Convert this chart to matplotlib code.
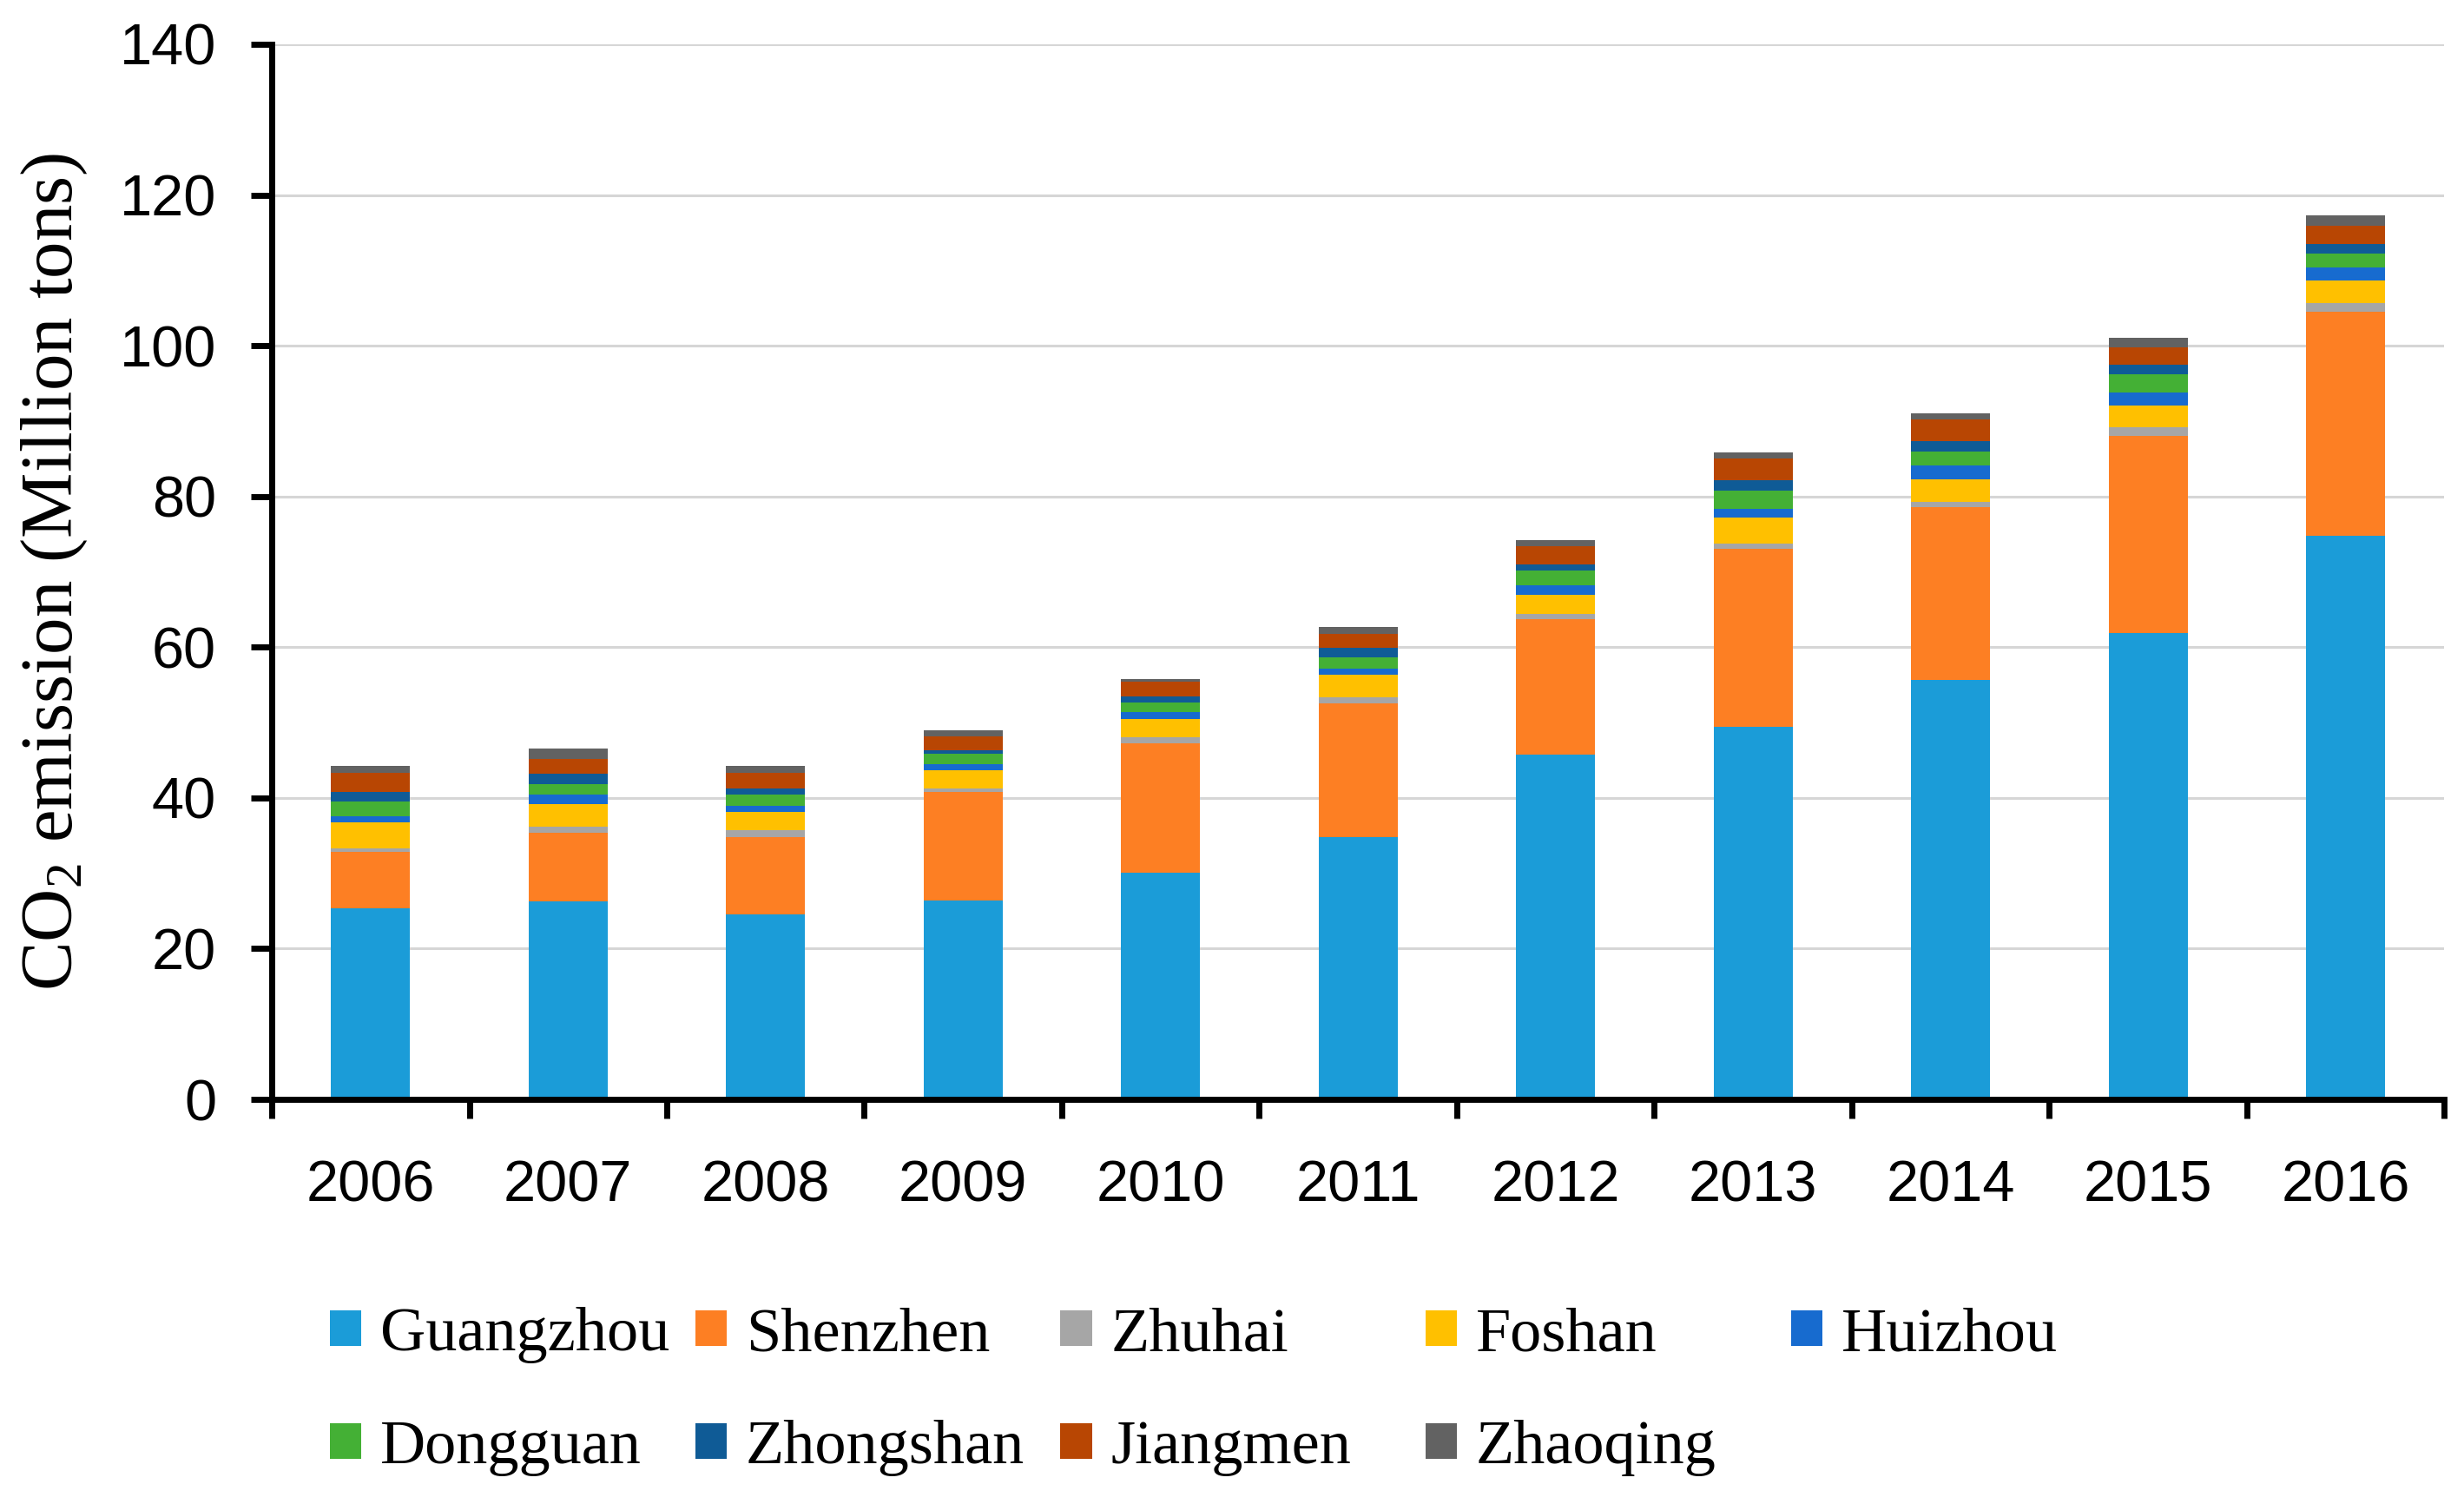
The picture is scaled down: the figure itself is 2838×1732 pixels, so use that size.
import matplotlib
matplotlib.use("Agg")
import matplotlib.pyplot as plt
import numpy as np
from matplotlib import font_manager
from matplotlib.patches import Patch

years = ["2006", "2007", "2008", "2009", "2010", "2011", "2012", "2013", "2014", "2015", "2016"]

# CO2 emission per city, million tons
guangzhou = [25.4, 26.3, 24.5, 26.4, 30.1, 34.8, 45.8, 49.4, 55.7, 61.9, 74.8]
shenzhen = [7.5, 9.1, 10.3, 14.4, 17.2, 17.8, 17.9, 23.6, 22.9, 26.1, 29.7]
zhuhai = [0.4, 0.8, 0.9, 0.5, 0.8, 0.8, 0.7, 0.8, 0.7, 1.2, 1.2]
foshan = [3.5, 3.0, 2.5, 2.4, 2.4, 2.9, 2.6, 3.4, 3.0, 2.9, 3.0]
huizhou = [0.8, 1.2, 0.8, 0.8, 0.9, 0.9, 1.2, 1.2, 1.8, 1.7, 1.7]
dongguan = [1.9, 1.4, 1.5, 1.4, 1.3, 1.4, 2.0, 2.4, 1.9, 2.4, 1.8]
zhongshan = [1.3, 1.4, 0.8, 0.4, 0.8, 1.3, 0.8, 1.4, 1.3, 1.3, 1.3]
jiangmen = [2.5, 2.0, 2.0, 1.9, 1.9, 1.9, 2.4, 2.8, 2.9, 2.3, 2.4]
zhaoqing = [0.9, 1.3, 0.9, 0.8, 0.4, 0.9, 0.8, 0.8, 0.8, 1.3, 1.4]

cities = ["Guangzhou", "Shenzhen", "Zhuhai", "Foshan", "Huizhou",
          "Dongguan", "Zhongshan", "Jiangmen", "Zhaoqing"]
city_values = [guangzhou, shenzhen, zhuhai, foshan, huizhou,
               dongguan, zhongshan, jiangmen, zhaoqing]
city_colors = ["#1b9cd8", "#fd7f23", "#a6a6a6", "#ffc000", "#176bcf",
               "#44b035", "#0f5b96", "#b84603", "#626262"]

y_ticks = [0, 20, 40, 60, 80, 100, 120, 140]


def pick_font(*names: str) -> str:
    installed = {f.name for f in font_manager.fontManager.ttflist}
    for name in names:
        if name in installed:
            return name
    return "DejaVu Sans"


def plot_emissions() -> None:
    sans = pick_font("Liberation Sans", "Arial")
    serif = pick_font("Liberation Serif", "Times New Roman", "DejaVu Serif")

    plt.rcParams["font.family"] = [sans, "DejaVu Sans"]
    plt.rcParams["mathtext.fontset"] = "custom"
    plt.rcParams["mathtext.rm"] = serif
    plt.rcParams["mathtext.it"] = serif + ":italic"

    fig = plt.figure(figsize=(28.38, 17.32), dpi=100)
    ax = fig.add_axes([0.1103, 0.269, 0.8817, 0.7016])

    x = np.arange(len(years))
    bottom = np.zeros(len(years))
    for name, vals, color in zip(cities, city_values, city_colors):
        vals = np.asarray(vals)
        ax.bar(x, vals, width=0.4, bottom=bottom, color=color, label=name,
               linewidth=0, zorder=3)
        bottom += vals

    ax.set_xlim(-0.5, len(years) - 0.5)
    ax.set_ylim(0, 140)
    ax.set_yticks(y_ticks)
    ax.yaxis.grid(True, color="#d6d6d6", linewidth=2.2, zorder=0)

    # category boundaries carry the tick marks, labels sit at the centres
    ax.set_xticks(np.arange(len(years) + 1) - 0.5)
    ax.set_xticklabels([])
    ax.set_xticks(x, minor=True)
    ax.set_xticklabels(years, minor=True)
    ax.tick_params(axis="x", which="major", direction="out", length=16, width=5)
    ax.tick_params(axis="x", which="minor", length=0, pad=50, labelsize=48)
    ax.tick_params(axis="y", direction="out", length=17, width=5, pad=29, labelsize=48)

    for side in ("top", "right"):
        ax.spines[side].set_visible(False)
    for side in ("left", "bottom"):
        ax.spines[side].set_linewidth(5)
        ax.spines[side].set_zorder(4)

    ax.set_ylabel(r"CO$_2$ emission (Million tons)", fontsize=61, family=serif,
                  va="center")
    ax.yaxis.set_label_coords(-0.0999, 0.5)

    handles = [Patch(facecolor=c, edgecolor="none") for c in city_colors]
    n_cols = 5
    for col in range(n_cols):
        idx = [i for i in (col, col + n_cols) if i < len(cities)]
        fig.legend(
            [handles[i] for i in idx],
            [cities[i] for i in idx],
            loc="upper left",
            bbox_to_anchor=(0.134 + col * 0.1482, 0.131),
            frameon=False,
            borderpad=0,
            borderaxespad=0,
            handlelength=0.5,
            handleheight=0.5,
            handletextpad=0.3,
            labelspacing=0.9,
            prop={"family": serif, "size": 52},
        )

    fig.savefig("out.png", dpi=100, facecolor="white")


if __name__ == "__main__":
    plot_emissions()
